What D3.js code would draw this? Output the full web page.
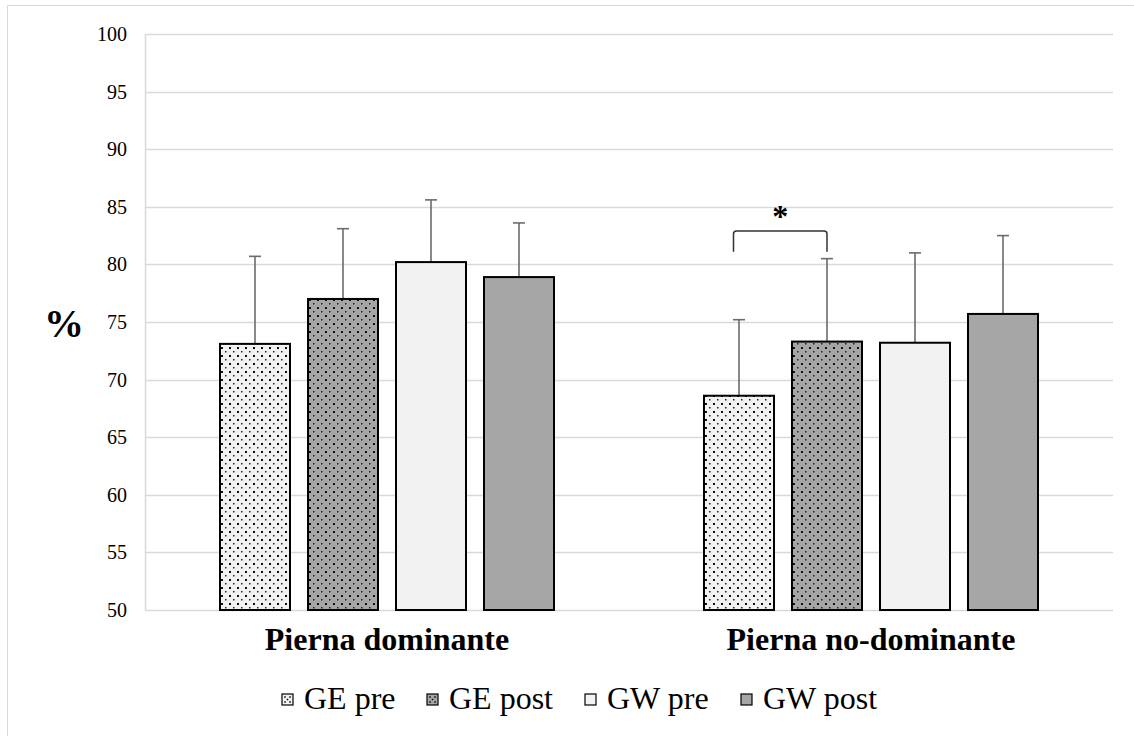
<!DOCTYPE html>
<html>
<head>
<meta charset="utf-8">
<script src="https://cdn.jsdelivr.net/npm/d3@7"></script>
<style>
  html, body { margin: 0; padding: 0; background: #fff; }
  svg { display: block; }
</style>
</head>
<body>
<svg id="chart" width="1134" height="736"></svg>
<script>
const categories = ["Pierna dominante", "Pierna no-dominante"];
const seriesNames = ["GE pre", "GE post", "GW pre", "GW post"];
const means = [
  [73.1, 77.0, 80.2, 78.9],
  [68.6, 73.3, 73.2, 75.7]
];
const sdUpper = [
  [80.7, 83.1, 85.6, 83.6],
  [75.2, 80.5, 81.0, 82.5]
];
const yTicks = [50, 55, 60, 65, 70, 75, 80, 85, 90, 95, 100];
const seriesFill = ["url(#dotsLight)", "url(#dotsDark)", "#f2f2f2", "#a6a6a6"];
const legendBase = ["#f2f2f2", "#a6a6a6", "#f2f2f2", "#a6a6a6"];
const sigPair = { category: 1, from: 0, to: 1, label: "*" };

const SERIF = "'Liberation Serif'";

const svg = d3.select("#chart");
const W = 1134, H = 736;
const margin = { left: 145, right: 21, top: 34, bottom: 126 };
const plotW = W - margin.left - margin.right;
const plotH = H - margin.top - margin.bottom;

const defs = svg.append("defs");
function dotPattern(id, bg) {
  const p = defs.append("pattern").attr("id", id).attr("patternUnits", "userSpaceOnUse")
    .attr("width", 8).attr("height", 8);
  p.append("rect").attr("width", 8).attr("height", 8).attr("fill", bg);
  p.append("rect").attr("x", 1).attr("y", 1).attr("width", 2).attr("height", 2).attr("fill", "#111");
  p.append("rect").attr("x", 5).attr("y", 5).attr("width", 1.5).attr("height", 1.5).attr("fill", "#222");
}
dotPattern("dotsLight", "#f2f2f2");
dotPattern("dotsDark", "#a6a6a6");

svg.append("line").attr("x1", 7.5).attr("x2", W).attr("y1", 5.5).attr("y2", 5.5).attr("stroke", "#d9d9d9").attr("stroke-width", 1);
svg.append("line").attr("x1", 7.5).attr("x2", 7.5).attr("y1", 5.5).attr("y2", H).attr("stroke", "#d9d9d9").attr("stroke-width", 1);

const g = svg.append("g").attr("transform", `translate(${margin.left},${margin.top})`);

const y = d3.scaleLinear().domain([50, 100]).range([plotH, 0]);
const x0 = d3.scaleBand().domain(categories).range([0, plotW]).paddingInner(0).paddingOuter(0);
const groupW = 334;
const x1 = d3.scaleBand().domain(seriesNames).range([0, groupW]).paddingInner(18 / 88).paddingOuter(0);

g.append("g").selectAll("line").data(yTicks).join("line")
  .attr("x1", 0).attr("x2", plotW)
  .attr("y1", d => Math.round(y(d)) + 0.5).attr("y2", d => Math.round(y(d)) + 0.5)
  .attr("stroke", "#d9d9d9").attr("stroke-width", 1.5);

g.append("line").attr("x1", 0.5).attr("x2", 0.5).attr("y1", 0).attr("y2", plotH)
  .attr("stroke", "#d9d9d9").attr("stroke-width", 1.5);

const yAxis = d3.axisLeft(y).tickValues(yTicks).tickSize(0).tickPadding(18);
const ya = g.append("g").call(yAxis);
ya.select(".domain").remove();
ya.attr("font-family", null).attr("font-size", null);
ya.selectAll("text").style("font-family", SERIF).style("font-size", "20px").attr("fill", "#000");

const groups = g.selectAll("g.cat").data(categories).join("g").attr("class", "cat")
  .attr("transform", c => `translate(${x0(c) + (x0.bandwidth() - groupW) / 2},0)`);

groups.each(function (c, ci) {
  const gg = d3.select(this);
  seriesNames.forEach((s, si) => {
    const v = means[ci][si];
    const hi = sdUpper[ci][si];
    const cx = x1(s) + x1.bandwidth() / 2;
    gg.append("line").attr("x1", cx).attr("x2", cx).attr("y1", y(v)).attr("y2", y(hi))
      .attr("stroke", "#6b6b6b").attr("stroke-width", 1.6);
    gg.append("line").attr("x1", cx - 6).attr("x2", cx + 6).attr("y1", y(hi)).attr("y2", y(hi))
      .attr("stroke", "#6b6b6b").attr("stroke-width", 1.6);
    gg.append("rect").attr("x", x1(s)).attr("y", y(v)).attr("width", x1.bandwidth())
      .attr("height", y(50) - y(v))
      .attr("fill", seriesFill[si]).attr("stroke", "#000").attr("stroke-width", 2);
  });
});

(function () {
  const c = categories[sigPair.category];
  const off = x0(c) + (x0.bandwidth() - groupW) / 2;
  const xa = off + x1(seriesNames[sigPair.from]) + x1.bandwidth() / 2 - 5.5;
  const xb = off + x1(seriesNames[sigPair.to]) + x1.bandwidth() / 2;
  const yTop = y(82.9);
  const yEnd = y(81.1);
  const r = 3;
  const path = `M${xa},${yEnd} L${xa},${yTop + r} Q${xa},${yTop} ${xa + r},${yTop} L${xb - r},${yTop} Q${xb},${yTop} ${xb},${yTop + r} L${xb},${yEnd}`;
  g.append("path").attr("d", path).attr("fill", "none").attr("stroke", "#333").attr("stroke-width", 1.5);
  g.append("text").attr("x", (xa + xb) / 2).attr("y", yTop - 4).attr("text-anchor", "middle")
    .style("font-family", SERIF).style("font-size", "32px").style("font-weight", "bold").text(sigPair.label);
})();

g.selectAll("text.cat").data(categories).join("text").attr("class", "cat")
  .attr("x", c => x0(c) + x0.bandwidth() / 2).attr("y", plotH + 40)
  .attr("text-anchor", "middle").style("font-family", SERIF).style("font-size", "32px")
  .style("font-weight", "bold").attr("fill", "#000")
  .text(c => c);

svg.append("text").attr("x", 64).attr("y", 337).attr("text-anchor", "middle")
  .style("font-family", SERIF).style("font-size", "40px").style("font-weight", "bold").text("%");

const legendStarts = [282, 427, 585, 741];
const lg = svg.append("g").attr("class", "legend");
seriesNames.forEach((s, i) => {
  const lx = legendStarts[i];
  lg.append("rect").attr("x", lx).attr("y", 694).attr("width", 11).attr("height", 11)
    .attr("fill", legendBase[i])
    .attr("stroke", "#000").attr("stroke-width", 1.2);
  if (i < 2) {
    [[3, 3], [8, 3], [5.5, 5.5], [3, 8], [8, 8]].forEach(([dx, dy]) => {
      lg.append("rect").attr("x", lx + dx - 0.75).attr("y", 694 + dy - 0.75).attr("width", 1.5).attr("height", 1.5).attr("fill", "#000");
    });
  }
  lg.append("text").attr("x", lx + 22).attr("y", 709).style("font-family", SERIF).style("font-size", "32px").attr("fill", "#000").text(s);
});
</script>
</body>
</html>
